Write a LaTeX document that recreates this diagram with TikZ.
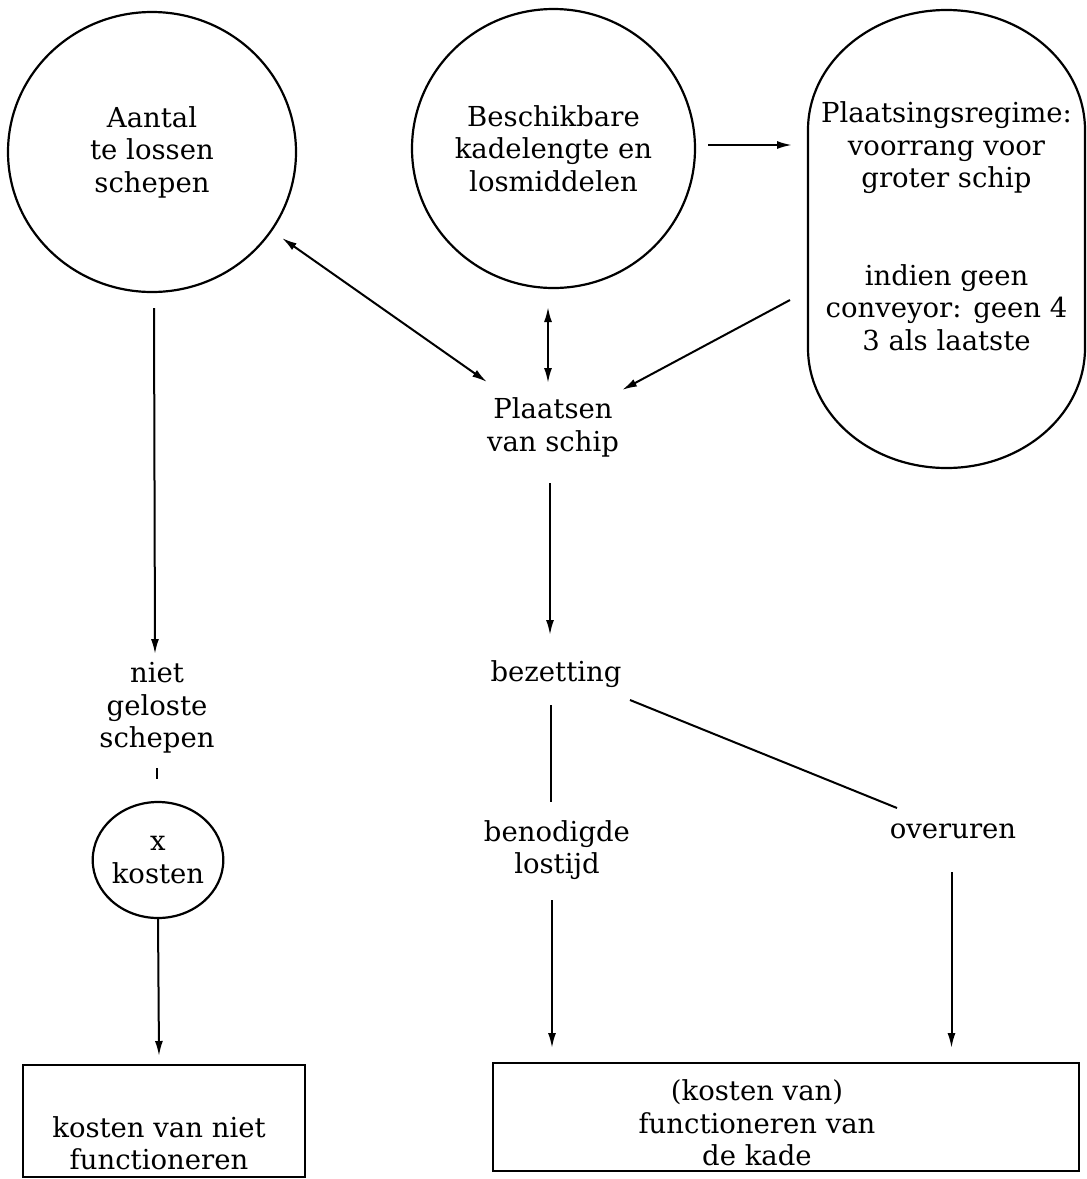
\documentclass[tikz,border=0pt]{standalone}
\usepackage{fontspec}
\setmainfont{DejaVu Serif}
\usetikzlibrary{shapes.geometric,arrows.meta}

\begin{document}
\begin{tikzpicture}[
  x=1pt, y=-1pt,
  every node/.style={inner sep=0pt, outer sep=0pt, align=center,
    font=\fontsize{27.5}{32.5}\selectfont},
  bubble/.style={ellipse, draw, line width=2.2pt},
  boxed/.style={rectangle, draw, line width=2.2pt},
  conn/.style={line width=2pt},
  arr/.style={conn, -{Latex[length=15pt,width=8pt]}},
  dbl/.style={conn, {Latex[length=15pt,width=8pt]}-{Latex[length=15pt,width=8pt]}},
]
\useasboundingbox (0,0) rectangle (1087,1179);

% top row: inputs
\node[bubble, minimum width=288, minimum height=280] (A) at (152,152)
  {Aantal\\te lossen\\schepen};
\node[bubble, minimum width=283, minimum height=279] (B) at (553.5,148.5)
  {Beschikbare\\kadelengte en\\losmiddelen};

% placement rules in a stadium outline
\draw[line width=2.2pt] (808,130) arc[start angle=180, end angle=360, x radius=138.5, y radius=120]
  -- (1085,348) arc[start angle=0, end angle=180, x radius=138.5, y radius=120] -- cycle;
\node (R) at (946.5,226)
  {Plaatsingsregime:\\voorrang voor\\groter schip\\[65pt]indien geen\\conveyor: geen 4\\3 als laatste};

% intermediate quantities
\node (P)  at (553,427.5) {Plaatsen\\van schip};
\node (Bz) at (556,674)   {bezetting};
\node (Bn) at (557,850)   {benodigde\\lostijd};
\node (Ov) at (953,831)   {overuren};
\node (N)  at (157,708)   {niet\\geloste\\schepen};
\node[bubble, minimum width=124, minimum height=116] (X) at (158,860) {x\\kosten};

% outcomes
\node[boxed, minimum width=282, minimum height=112] (LBox) at (164,1121) {};
\node (LText) at (159,1143) {kosten van niet\\functioneren};
\node[boxed, minimum width=586, minimum height=108] (RBox) at (786,1117) {};
\node (RText) at (757,1123) {(kosten van)\\functioneren van\\de kade};

% connectors
\draw[dbl] ([shift={(130,86)}]A.center) -- ([shift={(-66,-45.5)}]P.center);
\draw[dbl] ([shift={(-5.5,158.5)}]B.center) -- ([shift={(-5,-44.5)}]P.center);
\draw[arr] ([shift={(154.5,-3.5)}]B.center) -- ([shift={(-154.5,-81)}]R.center);
\draw[arr] ([shift={(-156.5,74)}]R.center) -- ([shift={(69,-37.5)}]P.center);
\draw[arr] ([shift={(2,156)}]A.center) -- ([shift={(-2,-54)}]N.center);
\draw[conn] ([shift={(0,60)}]N.center) -- ([shift={(-1,-81)}]X.center);
\draw[arr] ([shift={(0,58)}]X.center) -- ([shift={(-5,-65)}]LBox.center);
\draw[arr] ([shift={(-3,55.5)}]P.center) -- ([shift={(-6,-39)}]Bz.center);
\draw[conn] ([shift={(-5,31)}]Bz.center) -- ([shift={(-6,-48)}]Bn.center);
\draw[conn] ([shift={(74,26)}]Bz.center) -- ([shift={(-56,-23)}]Ov.center);
\draw[arr] ([shift={(-5,50)}]Bn.center) -- ([shift={(-234,-69)}]RBox.center);
\draw[arr] ([shift={(-1.5,41)}]Ov.center) -- ([shift={(165.5,-69)}]RBox.center);
\end{tikzpicture}
\end{document}
